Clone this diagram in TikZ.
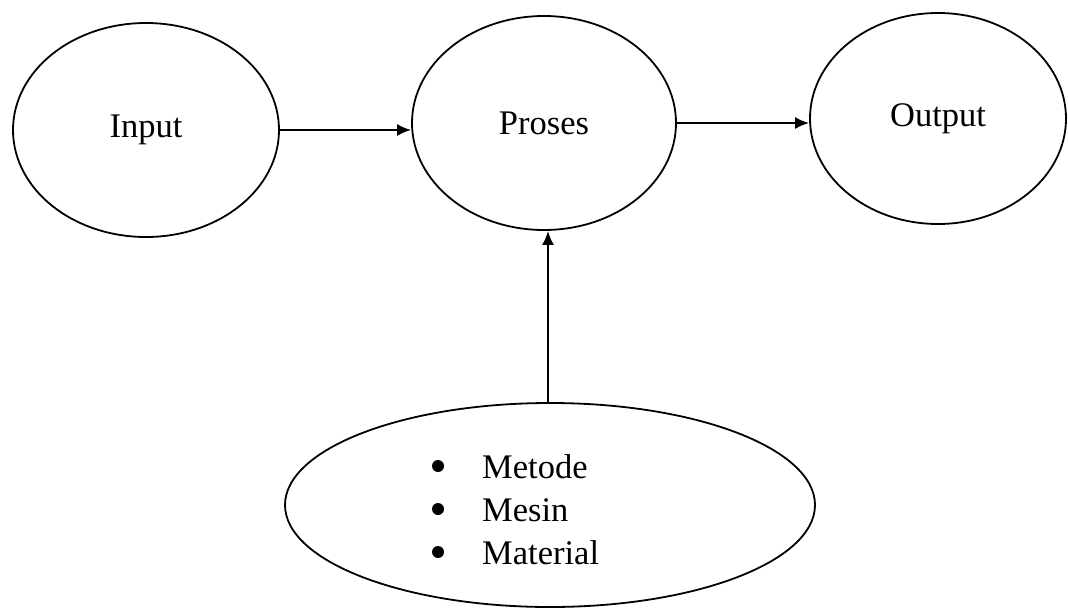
\documentclass[tikz,border=0pt]{standalone}
\usepackage{fontspec}
\setmainfont{Liberation Serif}
\usetikzlibrary{shapes.geometric,arrows.meta}
\begin{document}
\begin{tikzpicture}[x=1pt,y=-1pt,
  blob/.style={ellipse,draw=black,line width=1.8pt,inner sep=0pt,font=\fontsize{34.5}{40}\selectfont},
  flow/.style={line width=1.8pt,-{Latex[length=14pt,width=12pt]}},
  item/.style={anchor=base west,inner sep=0pt,font=\fontsize{34.5}{40}\selectfont},
  bul/.style={fill=black}]
\useasboundingbox[fill=white] (0,0) rectangle (1068,613);
\node[blob,minimum width=266pt,minimum height=214pt] (in) at (146,130) {Input};
\node[blob,minimum width=264pt,minimum height=214pt] (pr) at (544,123) {Proses};
\node[blob,minimum width=256pt,minimum height=211pt] (out) at (938,118.5) {Output};
\node[blob,minimum width=530pt,minimum height=204pt] (mat) at (550,505) {};
\node[item] (m1) at (482,478) {Metode};
\node[item] (m2) at (482,521) {Mesin};
\node[item] (m3) at (482,564) {Material};
\foreach \m in {m1,m2,m3}
  \fill[bul] ([xshift=-44pt,yshift=12pt]\m.base west) circle (6pt);
\draw[flow] (in.east) -- (in.east -| pr.west);
\draw[flow] (pr.east) -- (pr.east -| out.west);
\draw[flow] ([xshift=-2pt]mat.north) -- ([xshift=-2pt]mat.north |- pr.south);
\end{tikzpicture}
\end{document}
